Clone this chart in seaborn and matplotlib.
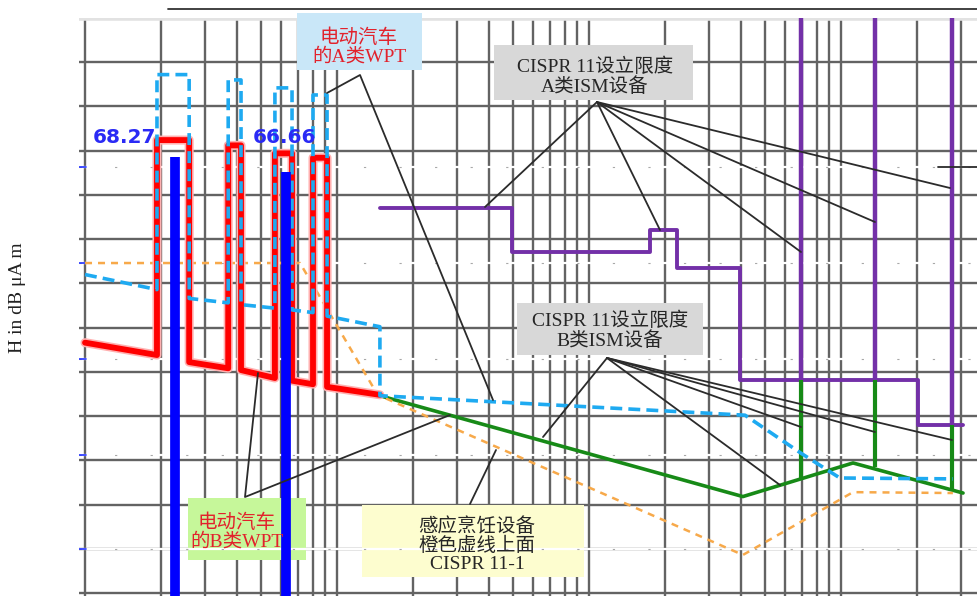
import numpy as np
import matplotlib.pyplot as plt
import matplotlib.patheffects as pe
import seaborn as sns
from matplotlib.patches import Rectangle
from matplotlib.lines import Line2D

# frequency in kHz, field strength H in dB(uA/m)
# EV wireless power transfer, class B (red, solid)
red_f = [10, 19.3, 19.3, 25.9, 25.9, 37.0, 37.0, 41.6, 41.6, 56.7, 56.7, 66.3, 66.3, 80.3, 80.3, 91.3, 91.3, 148]
red_db = [48.3, 46.9, 71.2, 71.2, 46.1, 45.4, 70.6, 70.6, 45.2, 44.3, 69.7, 69.7, 44.0, 43.6, 69.2, 69.2, 43.3, 42.4]

# EV wireless power transfer, class A (light blue, dashed)
wpt_a_f = [10, 19.3, 19.3, 25.9, 25.9, 37.0, 37.0, 41.6, 41.6, 56.7, 56.7, 66.3, 66.3, 80.3, 80.3, 91.3, 91.3,
           148, 148, 4160, 6940, 9900, 27800]
wpt_a_db = [56.0, 54.3, 78.6, 78.6, 53.3, 52.8, 78.0, 78.0, 52.6, 52.2, 77.1, 77.1, 52.0, 51.7, 76.3, 76.3, 51.3,
            50.1, 42.3, 40.1, 35.8, 33.0, 32.9]

# induction cooking, CISPR 11-1 (orange, dashed)
cook_f = [10, 71.3, 145, 4080, 11160, 27800]
cook_db = [57.3, 57.3, 42.4, 24.3, 31.4, 31.3]

# CISPR 11 class B ISM (green)
ism_b_f = [148, 4080, 11160, 30500]
ism_b_db = [42.3, 30.9, 34.7, 31.3]
ism_b_spike_f = [6940, 13600, 27500]
ism_b_spike_top = [44.1, 44.1, 39.0]
ism_b_spike_bot = [33.0, 34.2, 31.5]

# CISPR 11 class A ISM (purple)
ism_a_f = [148, 495, 495, 1746, 1746, 2235, 2235, 3970, 3970, 20200, 20200, 30500]
ism_a_db = [63.5, 63.5, 58.5, 58.5, 61.0, 61.0, 56.7, 56.7, 44.1, 44.1, 39.0, 39.0]
ism_a_spike_f = [6940, 13600, 27500]
ism_a_spike_bot = [44.1, 44.1, 39.0]

# measured peaks (blue bars)
peak_f = [22.8, 62.8]
peak_db = [69.3, 67.6]
peak_labels = ['68.27', '66.66']

# faint white reference lines left over in the scan
ref_db = [68.2, 57.3, 46.5, 35.6, 25.0]

sns.set_theme(style='white')
plt.rcParams['font.family'] = ['Liberation Serif', 'Noto Sans CJK SC', 'DejaVu Sans']

W, H = 977, 596
fig = plt.figure(figsize=(W / 100, H / 100), dpi=100)
ax = fig.add_axes([79.4 / W, 0, 1 - 79.4 / W, 1 - 18 / H])
ax.set_xscale('log')
ax.set_xlim(9.5, 34650)
ax.set_ylim(19.66, 85)

grid_f = [m * 10 ** k for k in range(1, 5) for m in range(1, 10) if m * 10 ** k <= 30000]
ax.set_xticks(grid_f)
ax.set_xticks([], minor=True)
ax.set_yticks(np.arange(20, 81, 5))
ax.tick_params(length=0, labelbottom=False, labelleft=False)
ax.grid(True, color='#636363', lw=1.7)
ax.set_axisbelow(True)
for s in ax.spines.values():
    s.set_visible(False)
ax.axhline(85, color='#e2e2e2', lw=4, zorder=0.6)


def px(x, y):
    return x / W, 1 - y / H


def box(x0, y0, x1, y1, color):
    ax.add_patch(Rectangle(px(x0, y1), (x1 - x0) / W, (y1 - y0) / H, transform=fig.transFigure,
                           facecolor=color, edgecolor='none', zorder=1.5, clip_on=False))


def leader(xs, ys):
    ax.add_line(Line2D([x / W for x in xs], [1 - y / H for y in ys], transform=fig.transFigure,
                       color='#2b2b2b', lw=1.3, zorder=4, clip_on=False))


# annotation boxes
box(297, 13, 422, 70, '#c9e7f8')
box(494, 45, 693, 100, '#d8d8d8')
box(517, 303, 703, 355, '#d8d8d8')
box(188, 498, 306, 560, '#c6f79a')
box(362, 505, 584, 577, '#fdfdcf')

# scan artefacts: white dashed lines
for y in ref_db:
    ax.axhline(y, color='white', lw=1.6, zorder=1.8)
    ax.axhline(y, color='#a8a8a8', lw=0.8, ls=(0, (2, 30)), zorder=1.85)
    ax.plot([9.5, 10.1], [y, y], color='#2030ff', lw=1.2, zorder=1.9)


def trace(f, db, **kw):
    sns.lineplot(x=f, y=db, sort=False, estimator=None, ax=ax, **kw)


trace(ism_a_f, ism_a_db, color='#7330a8', lw=2.8, zorder=2.2)
ax.vlines(ism_a_spike_f, ism_a_spike_bot, 85, color='#7330a8', lw=3.2, zorder=2.2)
trace(ism_b_f, ism_b_db, color='#178a17', lw=2.6, zorder=2.3)
ax.vlines(ism_b_spike_f, ism_b_spike_bot, ism_b_spike_top, color='#178a17', lw=3.0, zorder=2.3)
trace(cook_f, cook_db, color='#f7a94a', lw=1.8, ls=(0, (2.8, 2.4)), zorder=2.4)
trace(red_f, red_db, color='#ff0000', lw=4.2, zorder=2.6,
      path_effects=[pe.Stroke(linewidth=6.5, foreground='#ffb0b0'), pe.Normal()])
trace(wpt_a_f, wpt_a_db, color='#1eaaf1', lw=2.6, ls=(0, (3.3, 1.7)), zorder=2.8)
ax.vlines(peak_f, 19.0, peak_db, color='#0000ff', lw=7, zorder=3.5)

# peak labels
for (x, y), lab in zip([(125, 138), (285, 138)], peak_labels):
    fig.text(*px(x, y), lab, ha='center', va='center', fontsize=14.5, fontweight='bold',
             color='#2a2af5', family='DejaVu Sans', zorder=6)

# leader lines
leader([327, 360, 493], [93, 75, 400])
for x, y in [(485, 207), (660, 230), (801, 252), (875, 222), (950, 188)]:
    leader([597, x], [102, y])
for x, y in [(543, 437), (780, 485), (801, 427), (875, 432), (952, 440)]:
    leader([607, x], [358, y])
leader([258, 245, 450], [373, 497, 415])
leader([470, 496], [504, 450])
leader([938, 977], [167, 167])

# box texts
txt = dict(ha='center', va='center', fontsize=14, linespacing=1.05, zorder=6)
fig.text(*px(359, 47), '电动汽车\n的A类WPT', color='#e2222c', **txt)
fig.text(*px(595, 77), 'CISPR 11设立限度\nA类ISM设备', color='#262626', **txt)
fig.text(*px(610, 331), 'CISPR 11设立限度\nB类ISM设备', color='#262626', **txt)
fig.text(*px(237, 532), '电动汽车\n的B类WPT', color='#e2222c', **txt)
fig.text(*px(477, 545), '感应烹饪设备\n橙色虚线上面\nCISPR 11-1', color='#262626', **txt)

fig.text(*px(18, 298), 'H in dB μA m', rotation=90, ha='center', va='center', fontsize=14, color='#222222')
fig.add_artist(Line2D([168 / W, 1], [1 - 9 / H, 1 - 9 / H], color='#333333', lw=1.3))

fig.savefig('out.png', dpi=100)
